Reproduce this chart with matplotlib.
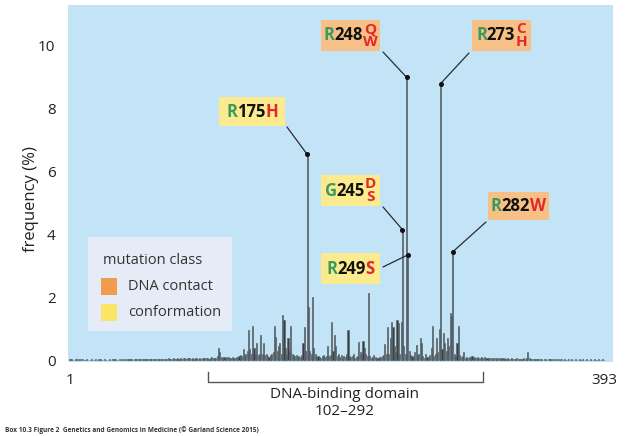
import numpy as np
import matplotlib
matplotlib.use('Agg')
import matplotlib.pyplot as plt
from matplotlib.patches import Rectangle
import matplotlib.transforms as mtransforms

plt.rcParams['font.family'] = ['Open Sans', 'DejaVu Sans']

# mutation frequency (%) for residues 1..393
freq = [
    0.03, 0.02, 0, 0, 0.03, 0.05, 0.02, 0, 0.02, 0.03, 0, 0, 0.02, 0, 0, 0, 0.02, 0, 0, 0.03,
    0, 0.02, 0.03, 0, 0, 0.02, 0, 0, 0, 0.02, 0, 0.02, 0.03, 0.02, 0, 0, 0.02, 0, 0.02, 0.02,
    0, 0.03, 0.02, 0.04, 0.02, 0.03, 0, 0.03, 0.02, 0.03, 0.02, 0.03, 0.04, 0.02, 0.03, 0.02, 0.03, 0.02, 0.04, 0.03,
    0.03, 0.04, 0.03, 0.04, 0.03, 0.04, 0.05, 0.03, 0.04, 0.05, 0.04, 0.05, 0.06, 0.04, 0.05, 0.04, 0.06, 0.05, 0.04, 0.06,
    0.05, 0.06, 0.05, 0.07, 0.06, 0.05, 0.06, 0.07, 0.06, 0.05, 0.06, 0.05, 0.07, 0.06, 0.05, 0.06, 0.05, 0.06, 0.07, 0.06,
    0.08, 0.06, 0.05, 0.07, 0.09, 0.07, 0.06, 0.08, 0.12, 0.38, 0.25, 0.10, 0.08, 0.11, 0.07, 0.09, 0.10, 0.08, 0.07, 0.09,
    0.06, 0.08, 0.10, 0.08, 0.12, 0.15, 0.12, 0.35, 0.15, 0.20, 0.30, 0.95, 0.35, 0.20, 1.10, 0.40, 0.20, 0.55, 0.15, 0.20,
    0.80, 0.20, 0.55, 0.15, 0.20, 0.12, 0.10, 0.15, 0.20, 0.25, 1.10, 0.75, 0.30, 0.45, 0.55, 0.20, 1.43, 1.27, 0.40, 0.20,
    0.70, 0.30, 1.10, 0.20, 0.15, 0.12, 0.15, 0.10, 0.12, 0.10, 0.15, 0.55, 1.05, 0.30, 6.55, 1.70, 0.30, 0.20, 2.00, 0.40,
    0.20, 0.10, 0.12, 0.10, 0.08, 0.12, 0.15, 0.10, 0.12, 0.45, 0.12, 0.15, 1.20, 0.30, 0.80, 0.45, 0.12, 0.20, 0.10, 0.15,
    0.08, 0.12, 0.10, 0.20, 0.95, 0.12, 0.10, 0.12, 0.20, 0.08, 0.10, 0.12, 0.57, 0.25, 0.20, 0.60, 0.40, 0.20, 0.12, 2.15,
    0.12, 0.08, 0.10, 0.15, 0.10, 0.08, 0.08, 0.10, 0.10, 0.12, 0.15, 0.50, 0.20, 1.05, 0.20, 0.70, 1.20, 1.05, 0.45, 0.25,
    1.27, 1.17, 0.20, 1.20, 4.15, 0.45, 0.20, 9.00, 3.35, 0.30, 0.15, 0.12, 0.10, 0.25, 0.48, 0.15, 0.20, 0.70, 0.55, 0.12,
    0.08, 0.20, 0.10, 0.10, 0.15, 0.40, 1.10, 0.12, 0.20, 0.70, 0.25, 1.00, 8.80, 0.35, 0.86, 0.55, 0.30, 0.70, 0.45, 1.50,
    1.40, 3.45, 0.20, 0.12, 0.55, 1.10, 0.15, 0.10, 0.12, 0.25, 0.08, 0.10, 0.08, 0.10, 0.09, 0.12, 0.08, 0.10, 0.07, 0.09,
    0.08, 0.06, 0.09, 0.07, 0.10, 0.06, 0.08, 0.07, 0.06, 0.08, 0.05, 0.07, 0.06, 0.05, 0.07, 0.06, 0.05, 0.06, 0.05, 0.07,
    0.05, 0.06, 0.04, 0.05, 0.06, 0.04, 0.05, 0.04, 0.06, 0.05, 0.04, 0.05, 0.04, 0.06, 0.05, 0.08, 0.25, 0.06, 0.04, 0.05,
    0.04, 0.05, 0.03, 0.04, 0.05, 0.03, 0.04, 0, 0.03, 0.04, 0, 0.03, 0.02, 0.04, 0, 0.03, 0.02, 0, 0.03, 0.02,
    0, 0.03, 0, 0.02, 0, 0, 0.03, 0, 0.02, 0, 0, 0.03, 0, 0, 0.02, 0, 0.02, 0, 0, 0.03,
    0, 0, 0.02, 0, 0, 0.03, 0, 0, 0.02, 0, 0, 0.03, 0,
]
residues = np.arange(1, len(freq) + 1)

x_ticks = [1, 393]
y_ticks = [0, 2, 4, 6, 8, 10]
domain_label = 'DNA-binding domain\n102–292'

# hotspot labels
hs_res = [175, 245, 248, 249, 273, 282]
hs_wt = ['R', 'G', 'R', 'R', 'R', 'R']
hs_mut = ['H', 'DS', 'QW', 'S', 'CH', 'W']
hs_class = ['conformation', 'conformation', 'DNA contact', 'conformation', 'DNA contact', 'DNA contact']

classes = ['DNA contact', 'conformation']
class_swatch = {'DNA contact': '#f09c4e', 'conformation': '#fbe567'}
class_box = {'DNA contact': '#f6c086', 'conformation': '#fbeb8e'}

# layout (figure pixels from top-left): box centre, box size, leader start
box_xy = [(252, 111.5), (350.5, 190.5), (350.5, 35.5), (350.5, 268.5), (501.5, 35.5), (518.5, 206)]
box_wh = [(66, 29), (59, 31), (59, 31), (59, 30), (59, 31), (61, 28)]
lead_from = [(287, 127), (383, 207), (383, 52), (383, 267), (469, 53), (486, 222)]

W, H = 635, 436
fig = plt.figure(figsize=(W / 100, H / 100), dpi=100)
ax = fig.add_axes([68 / W, 1 - 362 / H, 545 / W, 357 / H])
ax.set_facecolor('#c3e4f7')
ax.bar(residues, freq, width=0.8, color='#394044', edgecolor='#5b6469', linewidth=0.45)
ax.set_xlim(-0.5, 399.5)
ax.set_ylim(-0.06, 11.3)
for s in ax.spines.values():
    s.set_visible(False)
ax.set_yticks(y_ticks)
ax.set_xticks(x_ticks)
ax.tick_params(length=0, labelsize=11, colors='#222222')
ax.tick_params(axis='y', pad=9)
ax.tick_params(axis='x', pad=8)
ax.set_ylabel('frequency (%)', fontsize=12, color='#222222')
ax.yaxis.set_label_coords((39 - 68) / 545, (362 - 199) / 357)

# domain bracket
tr = mtransforms.blended_transform_factory(ax.transData, ax.transAxes)
ax.plot([102, 102, 304, 304], [-0.028, -0.056, -0.056, -0.028], color='#555555', lw=1.0,
        transform=tr, clip_on=False)
lines = domain_label.split('\n')
fig.text(345 / W, 1 - 394 / H, lines[0], ha='center', va='center', fontsize=11, color='#222222')
fig.text(345 / W, 1 - 411 / H, lines[1], ha='center', va='center', fontsize=11, color='#222222')

# hotspot labels
renderer = fig.canvas.get_renderer()
green, red = '#3c9a5f', '#e0282e'


def piece(s, color, size):
    return fig.text(0, 0, s, color=color, fontsize=size, fontweight='bold', ha='left', va='center')


for i, r in enumerate(hs_res):
    cx, cy = box_xy[i]
    bw, bh = box_wh[i]
    fig.add_artist(Rectangle(((cx - bw / 2) / W, 1 - (cy + bh / 2) / H), bw / W, bh / H,
                             transform=fig.transFigure, facecolor=class_box[hs_class[i]],
                             edgecolor='none'))
    t1 = piece(hs_wt[i], green, 12)
    t2 = piece(str(r), '#111111', 12)
    w1 = t1.get_window_extent(renderer).width
    w2 = t2.get_window_extent(renderer).width
    mut = hs_mut[i]
    if len(mut) == 1:
        t3 = [piece(mut, red, 12)]
        w3 = t3[0].get_window_extent(renderer).width
        ys = [cy]
    else:
        t3 = [piece(mut[0], red, 11), piece(mut[1], red, 11)]
        w3 = max(t.get_window_extent(renderer).width for t in t3)
        ys = [cy - 6.5, cy + 6.5]
    x0 = cx - (w1 + w2 + w3) / 2
    t1.set_position((x0 / W, 1 - cy / H))
    t2.set_position(((x0 + w1) / W, 1 - cy / H))
    for t, yy in zip(t3, ys):
        tw = t.get_window_extent(renderer).width
        t.set_position(((x0 + w1 + w2 + (w3 - tw) / 2) / W, 1 - yy / H))
    f = freq[r - 1]
    sx, sy = lead_from[i]
    ax.annotate('', xy=(r, f), xycoords='data', xytext=(sx, H - sy), textcoords='figure pixels',
                arrowprops=dict(arrowstyle='-', lw=0.9, color='#2b2b2b', shrinkA=0, shrinkB=0),
                annotation_clip=False)
    ax.plot(r, f, 'o', ms=2.6, color='#111111', zorder=5, clip_on=False)

# legend
fig.add_artist(Rectangle((88 / W, 1 - 331 / H), 144 / W, 94 / H, transform=fig.transFigure,
                         facecolor='#e6ecf7', edgecolor='none'))
fig.text(103 / W, 1 - 261 / H, 'mutation class', fontsize=10.5, va='center', color='#333333')
for k, c in enumerate(classes):
    y0 = 278 + k * 26
    fig.add_artist(Rectangle((101 / W, 1 - (y0 + 17) / H), 16 / W, 17 / H, transform=fig.transFigure,
                             facecolor=class_swatch[c], edgecolor='none'))
    fig.text(128 / W, 1 - (y0 + 9) / H, c, fontsize=10.5, va='center', color='#333333')

fig.text(5 / W, 1 - 430 / H,
         'Box 10.3 Figure 2  Genetics and Genomics in Medicine (© Garland Science 2015)',
         fontsize=4.7, fontweight='bold', color='#333333', va='center')

fig.savefig('out.png', dpi=100)
